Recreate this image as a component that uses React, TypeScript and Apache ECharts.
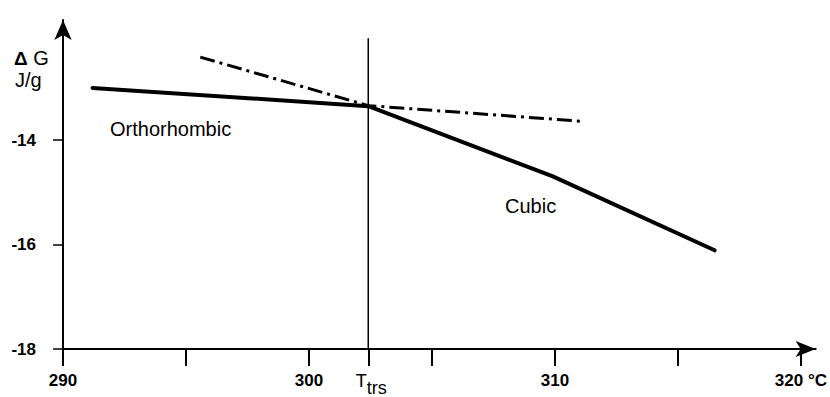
import React, { useEffect, useRef } from "react";
import * as echarts from "echarts";

const xTickValues = [290, 295, 300, 305, 310, 315, 320];
const xLabelValues = [290, 300, 310, 320];
const yTickValues = [-18, -16, -14];
const T_TRS = 302.41;
const orthorhombic: number[][] = [[291.2, -13.0], [302.41, -13.35]];
const cubic: number[][] = [[302.41, -13.35], [309.89, -14.69], [316.49, -16.11]];
const metastable: number[][] = [[295.58, -12.41], [302.41, -13.34], [311.11, -13.64]];
const transitionLine: number[][] = [[T_TRS, -18], [T_TRS, -12.05]];

const FONT = "'Liberation Sans', Arial, Helvetica, sans-serif";

export default function App() {
  const ref = useRef<HTMLDivElement>(null);
  useEffect(() => {
    if (!ref.current) return;
    const chart = echarts.init(ref.current, null, { renderer: "svg" });
    chart.setOption({
      animation: false,
      backgroundColor: "#fff",
      grid: { left: 63, right: 10, top: 20, bottom: 48 },
      xAxis: {
        type: "value",
        min: 290,
        max: 320.6,
        axisLine: {
          show: true,
          onZero: false,
          symbol: ["none", "arrow"],
          symbolSize: [12, 20],
          lineStyle: { color: "#000", width: 2 },
        },
        axisTick: {
          show: true,
          customValues: [...xTickValues, T_TRS],
          length: 17,
          lineStyle: { color: "#000", width: 2 },
        },
        axisLabel: {
          customValues: [...xLabelValues, T_TRS],
          margin: 23,
          color: "#000",
          fontSize: 17,
          fontWeight: "bold",
          fontFamily: FONT,
          formatter: (v: number) => {
            if (Math.abs(v - T_TRS) < 0.01) return "{t|T}{s|trs}";
            if (v === 320) return "320 °C";
            return String(v);
          },
          rich: {
            t: { fontSize: 18, fontWeight: "normal", color: "#000", fontFamily: FONT, verticalAlign: "top", padding: [0, 0, 0, 6] },
            s: { fontSize: 18, fontWeight: "normal", color: "#000", fontFamily: FONT, padding: [7, 0, 0, 0] },
          },
        },
        splitLine: { show: false },
      },
      yAxis: {
        type: "value",
        min: -18,
        max: -11.7,
        axisLine: {
          show: true,
          onZero: false,
          symbol: ["none", "arrow"],
          symbolSize: [13, 20],
          lineStyle: { color: "#000", width: 2 },
        },
        axisTick: {
          show: true,
          customValues: yTickValues,
          length: 10,
          lineStyle: { color: "#000", width: 1.5 },
        },
        axisLabel: {
          customValues: yTickValues,
          margin: 27,
          color: "#000",
          fontSize: 17,
          fontWeight: "bold",
          fontFamily: FONT,
        },
        splitLine: { show: false },
      },
      graphic: [
        {
          type: "text",
          x: 14,
          y: 58,
          style: {
            text: "{d|Δ}{g| G}",
            verticalAlign: "middle",
            rich: {
              d: { font: `bold 19px ${FONT}`, fill: "#000" },
              g: { font: `20px ${FONT}`, fill: "#000" },
            },
            font: `20px ${FONT}`,
            fill: "#000",
          },
        },
        {
          type: "text",
          x: 15,
          y: 80,
          style: { text: "J/g", font: `20px ${FONT}`, fill: "#000", verticalAlign: "middle" },
        },
        {
          type: "text",
          x: 110,
          y: 129,
          style: { text: "Orthorhombic", font: `20px ${FONT}`, fill: "#000", verticalAlign: "middle" },
        },
        {
          type: "text",
          x: 505,
          y: 206,
          style: { text: "Cubic", font: `20px ${FONT}`, fill: "#000", verticalAlign: "middle" },
        },
      ],
      series: [
        {
          type: "line",
          data: transitionLine,
          symbol: "none",
          lineStyle: { color: "#000", width: 1.5 },
          z: 1,
        },
        {
          type: "line",
          data: orthorhombic,
          symbol: "none",
          lineStyle: { color: "#000", width: 4, cap: "round" },
          z: 3,
        },
        {
          type: "line",
          data: cubic,
          symbol: "none",
          lineStyle: { color: "#000", width: 4, cap: "round", join: "round" },
          z: 3,
        },
        {
          type: "line",
          data: metastable,
          symbol: "none",
          lineStyle: { color: "#000", width: 3, type: [15, 5, 3, 5] },
          z: 2,
        },
      ],
    });
    return () => chart.dispose();
  }, []);
  return (
    <div
      ref={ref}
      style={{ position: "absolute", left: 0, top: 0, width: 830, height: 397 }}
    />
  );
}
